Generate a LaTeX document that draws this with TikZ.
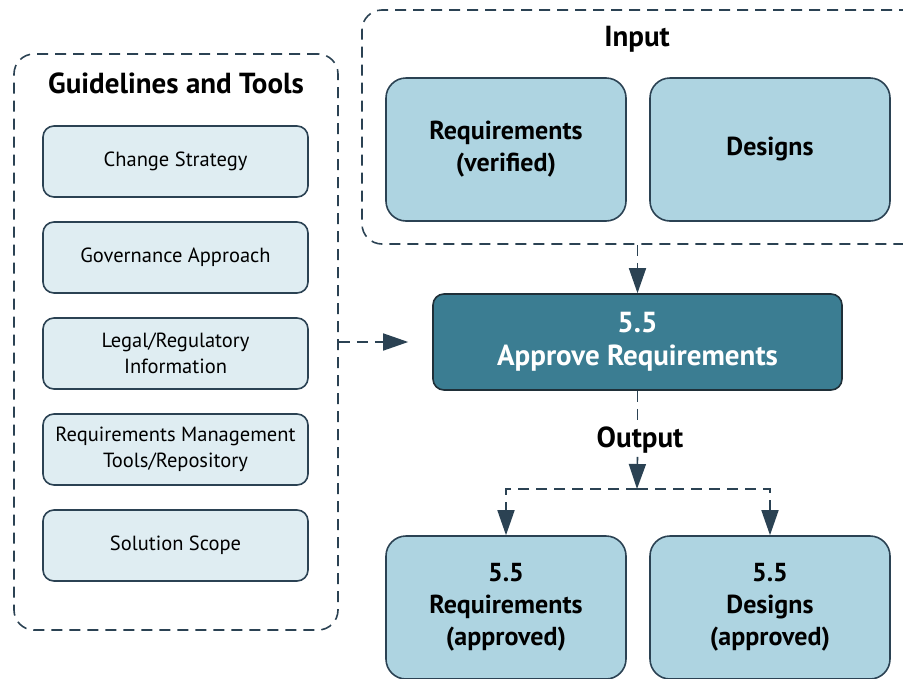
\documentclass[tikz,border=0pt]{standalone}
\usepackage{fontspec}
\setsansfont{PT Sans}
\renewcommand{\familydefault}{\sfdefault}
\usetikzlibrary{arrows.meta}

\definecolor{linecol}{HTML}{2B4253}
\definecolor{toolfill}{HTML}{DFEDF2}
\definecolor{itemfill}{HTML}{AED4E1}
\definecolor{taskfill}{HTML}{3B7D92}
\definecolor{taskline}{HTML}{1F2F38}

\begin{document}
\begin{tikzpicture}[x=1pt, y=-1pt, font=\sffamily,
    frame/.style={draw=linecol, line width=1.6pt, dash pattern=on 11pt off 7pt,
        rounded corners=20pt, inner sep=0pt},
    tool/.style={draw=linecol, fill=toolfill, line width=1.6pt, rounded corners=11pt,
        minimum width=265pt, minimum height=71pt, align=center, inner sep=0pt,
        font=\fontsize{20.5}{26}\selectfont},
    item/.style={draw=linecol, fill=itemfill, line width=1.6pt, rounded corners=20pt,
        minimum width=240pt, minimum height=143pt, align=center, inner sep=0pt,
        font=\bfseries\fontsize{26}{32}\selectfont},
    task/.style={draw=taskline, fill=taskfill, text=white, line width=1.6pt,
        rounded corners=11pt, minimum width=409pt, minimum height=96pt,
        align=center, font=\bfseries\fontsize{29}{33}\selectfont},
    heading/.style={font=\bfseries\fontsize{29}{32}\selectfont},
    link/.style={draw=linecol, line width=1.6pt, dash pattern=on 11pt off 7pt},
    flow/.style={link, -{Triangle[length=25pt,width=17pt]}},
]
\useasboundingbox (0,0) rectangle (903,678);

% guidelines and tools
\node[frame, minimum width=324pt, minimum height=576pt] (tools) at (176,342) {};
\node[heading] (toolsTitle) at (176,83) {Guidelines and Tools};
\node[tool] (strategy) at (175.5,161.5) {Change Strategy};
\node[tool] (governance) at (175.5,257.5) {Governance Approach};
\node[tool] (legal) at (175.5,353.5) {Legal/Regulatory\\Information};
\node[tool] (repository) at (175.5,449.5) {Requirements Management\\Tools/Repository};
\node[tool] (scope) at (175.5,545.5) {Solution Scope};

% input
\node[frame, minimum width=568pt, minimum height=234pt] (input) at (646,127) {};
\node[heading] (inputTitle) at (637,39) {Input};
\node[item] (reqVerified) at (506,149.5) {Requirements\\(verified)};
\node[item] (designs) at (770,149.5) {Designs};

% task
\node[task] (approve) at (637.5,342) {5.5\\Approve Requirements};

% output
\node[heading] (output) at (640,440) {Output};
\node[item] (reqApproved) at (506,607.5) {5.5\\Requirements\\(approved)};
\node[item] (desApproved) at (770,607.5) {5.5\\Designs\\(approved)};
\coordinate (split) at (637,489);

\draw[flow] (approve.north |- input.south) -- (approve.north);
\draw[flow, shorten >=24pt] (tools.east |- approve.west) -- (approve.west);
\draw[link] (approve.south) -- (approve.south |- output.north);
\draw[flow] (approve.south |- output.south) -- (split);
\draw[flow] (split) -| (reqApproved.north);
\draw[flow] (split) -| (desApproved.north);

\end{tikzpicture}
\end{document}
